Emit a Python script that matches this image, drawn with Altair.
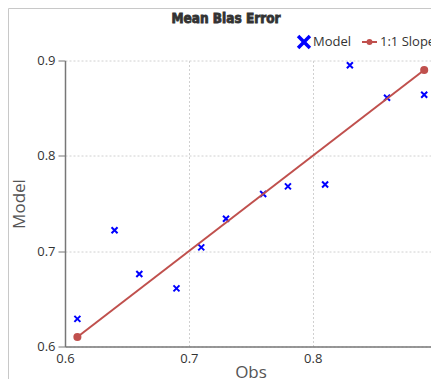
import altair as alt
import pandas as pd

obs = [0.61, 0.64, 0.66, 0.69, 0.71, 0.73, 0.76, 0.78, 0.81, 0.83, 0.86, 0.89]
model = [0.629, 0.722, 0.676, 0.661, 0.704, 0.734, 0.760, 0.768, 0.770, 0.895, 0.861, 0.864]
slope_x = [0.61, 0.89]
slope_y = [0.61, 0.89]
x_ticks = [0.6, 0.7, 0.8]
y_ticks = [0.6, 0.7, 0.8, 0.9]

pts = pd.DataFrame({"Obs": obs, "Model": model})
line = pd.DataFrame({"Obs": slope_x, "Model": slope_y})

BLUE = "#0000ff"
RED = "#c0504d"
FONT = "Open Sans"
TFONT = "DejaVu Sans Condensed, Roboto"
XPATH = "M-1,-1L1,1M-1,1L1,-1"

xs = alt.Scale(domain=[0.6, 0.8955], nice=False, zero=False)
ys = alt.Scale(domain=[0.6, 0.9], nice=False, zero=False)

xenc = alt.X("Obs:Q", scale=xs, title="Obs",
             axis=alt.Axis(values=x_ticks, format=".1f", ticks=False, labelPadding=6,
                           labelFlush=False, titleX=185.5, titleY=31,
                           titleBaseline="alphabetic"))
yenc = alt.Y("Model:Q", scale=ys, title="Model",
             axis=alt.Axis(values=y_ticks, format=".1f", tickSize=7, labelPadding=3,
                           labelFlush=False, titlePadding=8))

points = alt.Chart(pts).mark_point(shape=XPATH, color=BLUE, size=36, strokeWidth=2,
                                   filled=False, opacity=1).encode(x=xenc, y=yenc)

slope = alt.Chart(line).mark_line(color=RED, strokeWidth=2).encode(x=xenc, y=yenc)
ends = alt.Chart(line).mark_circle(color=RED, size=65, opacity=1).encode(x=xenc, y=yenc)

one = pd.DataFrame({"k": [0]})
# frame lines
frame_top = alt.Chart(one).mark_rule(color="#c8c8c8", strokeWidth=1).encode(
    x=alt.value(-56.5), x2=alt.value(400), y=alt.value(-52))
frame_left = alt.Chart(one).mark_rule(color="#c8c8c8", strokeWidth=1).encode(
    x=alt.value(-56.5), y=alt.value(-52), y2=alt.value(400))

title = alt.Chart(one).mark_text(text="Mean Bias Error", font=TFONT,
                                 fontWeight="bold", fontSize=13.5, color="#333333",
                                 stroke="#333333", strokeWidth=0.8,
                                 align="center", baseline="middle").encode(
    x=alt.value(161), y=alt.value(-41.5))

leg_x = alt.Chart(one).mark_point(shape=XPATH, color=BLUE, size=140, strokeWidth=3.5,
                                  filled=False, opacity=1).encode(
    x=alt.value(239), y=alt.value(-18.5))
leg_model = alt.Chart(one).mark_text(text="Model", font=FONT, fontSize=13, color="#333333",
                                     align="left", baseline="middle").encode(
    x=alt.value(248), y=alt.value(-18.5))
leg_line = alt.Chart(one).mark_rule(color=RED, strokeWidth=2).encode(
    x=alt.value(297), x2=alt.value(312), y=alt.value(-18.5))
leg_dot = alt.Chart(one).mark_circle(color=RED, size=35, opacity=1).encode(
    x=alt.value(304.5), y=alt.value(-18.5))
leg_slope = alt.Chart(one).mark_text(text="1:1 Slope", font=FONT, fontSize=13, color="#333333",
                                     align="left", baseline="middle").encode(
    x=alt.value(315), y=alt.value(-18.5))

chart = alt.layer(points, slope, ends, frame_top, frame_left, title,
                  leg_x, leg_model, leg_line, leg_dot, leg_slope).properties(
    width=366, height=286,
    background="white",
    autosize=alt.AutoSizeParams(type="none"),
    padding={"left": 57, "top": 52.5, "right": 0, "bottom": 32},
).configure_view(stroke=None).configure_axis(
    labelFont=FONT, labelFontSize=13, labelColor="#333333",
    titleFont=FONT, titleFontSize=17, titleFontWeight="normal", titleColor="#555555",
    domainColor="#777777", domainWidth=1.5, tickColor="#777777",
    gridColor="#d0d0d0", gridDash=[2, 2], gridWidth=1,
)

chart.save("out.html", embed_options={"renderer": "svg", "actions": False})
